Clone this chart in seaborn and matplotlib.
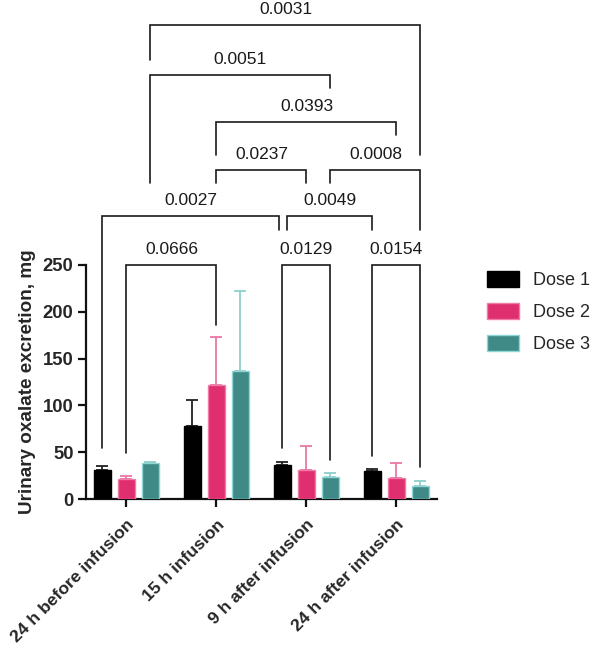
import matplotlib
matplotlib.use("Agg")
import matplotlib.pyplot as plt
import seaborn as sns
import pandas as pd
from matplotlib.patches import Patch

# ---------------- data ----------------
categories = ["24 h before infusion", "15 h infusion", "9 h after infusion", "24 h after infusion"]
doses = ["Dose 1", "Dose 2", "Dose 3"]
dose1_mean = [31, 78, 36.5, 30]
dose1_upper = [35, 106, 40, 32]
dose2_mean = [21, 122, 31, 22.5]
dose2_upper = [24.5, 173, 57, 38]
dose3_mean = [38.5, 137, 23.5, 14]
dose3_upper = [39.5, 222, 28, 19]
y_ticks = [0, 50, 100, 150, 200, 250]

# bracket annotations: label, (category, dose) left, (category, dose) right
p_labels = ["0.0666", "0.0129", "0.0154", "0.0027", "0.0049",
            "0.0237", "0.0008", "0.0393", "0.0051", "0.0031"]
p_left = [(0, 1), (2, 0), (3, 0), (0, 0), (2, 0), (1, 1), (2, 2), (1, 1), (0, 2), (0, 2)]
p_right = [(1, 1), (2, 2), (3, 2), (2, 0), (3, 0), (2, 1), (3, 2), (3, 1), (2, 2), (3, 2)]

# styling for brackets (top y, left-leg bottom, right-leg bottom, x nudges)
br_top = [250, 250, 250, 302, 302, 351, 351, 403, 453, 506]
br_lb = [49, 54.5, 46, 54.5, 287, 338, 338, 367, 338, 469]
br_rb = [186, 42, 34, 287, 287, 338, 287, 389, 439, 367]
br_dl = [0, 0, 0, 0, 0.05, 0, 0, 0, 0, 0]
br_dr = [0, 0, 0, -0.04, 0, 0, 0, 0, 0, 0]

fill_colors = ["#000000", "#e02f6e", "#3f8a86"]
edge_colors = ["#000000", "#f07aa8", "#90d6d6"]
err_colors = ["#222222", "#ea78a6", "#8fcfcc"]

means = [dose1_mean, dose2_mean, dose3_mean]
uppers = [dose1_upper, dose2_upper, dose3_upper]

rows = []
for d, m in zip(doses, means):
    for c, v in zip(categories, m):
        rows.append({"time": c, "dose": d, "value": v})
df = pd.DataFrame(rows)

# ---------------- plot ----------------
sns.set_style("ticks")
plt.rcParams["font.family"] = ["Liberation Sans", "DejaVu Sans"]

fig = plt.figure(figsize=(5.92, 6.48), dpi=100)
ax = fig.add_axes([86 / 592, 1 - 499 / 648, (437 - 86) / 592, 234 / 648])

sns.barplot(data=df, x="time", y="value", hue="dose", order=categories,
            hue_order=doses, palette=fill_colors, saturation=1, width=0.8,
            gap=0.33, errorbar=None, ax=ax, zorder=3)
if ax.get_legend() is not None:
    ax.get_legend().remove()

bar_conts = list(ax.containers)

for h, cont in enumerate(bar_conts):
    for c, bar in enumerate(cont):
        bar.set_edgecolor(edge_colors[h])
        bar.set_linewidth(1.0)
        x = bar.get_x() + bar.get_width() / 2
        top = bar.get_height()
        ax.errorbar([x], [top], yerr=[[0], [uppers[h][c] - top]], fmt="none",
                    ecolor=err_colors[h], elinewidth=1.3, capsize=4,
                    capthick=1.3, zorder=2)


def bar_x(cat, hue):
    b = bar_conts[hue][cat]
    return b.get_x() + b.get_width() / 2


for i, lab in enumerate(p_labels):
    x1 = bar_x(*p_left[i]) + br_dl[i]
    x2 = bar_x(*p_right[i]) + br_dr[i]
    t = br_top[i]
    ax.plot([x1, x1, x2, x2], [br_lb[i], t, t, br_rb[i]], color="#1a1a1a",
            lw=1.2, clip_on=False, solid_joinstyle="miter")
    ax.text((x1 + x2) / 2, t + 12, lab, ha="center", va="baseline",
            fontsize=12.5, color="#1a1a1a", clip_on=False)

ax.set_xlim(-0.45, 3.45)
ax.set_ylim(0, 250)
ax.set_yticks(y_ticks)
ax.set_yticklabels([str(v) for v in y_ticks], fontsize=13.3, fontweight="bold")
ax.set_xticks(range(len(categories)))
ax.set_xticklabels(categories, rotation=45, ha="right", rotation_mode="anchor",
                   fontsize=12.6, fontweight="bold")
ax.set_xlabel("")
ax.set_ylabel("Urinary oxalate excretion, mg", fontsize=13.6, fontweight="bold",
              labelpad=5)
sns.despine(ax=ax)
for s in ["left", "bottom"]:
    ax.spines[s].set_linewidth(1.6)
    ax.spines[s].set_color("#111111")
ax.tick_params(axis="both", width=1.6, length=6, color="#111111", pad=3)
ax.tick_params(axis="x", pad=7)

handles = [Patch(facecolor=fill_colors[i], edgecolor=edge_colors[i], label=doses[i])
           for i in range(3)]
fig.legend(handles=handles, loc="center left",
           bbox_to_anchor=(487 / 592, 1 - 312 / 648), frameon=False,
           fontsize=13, handlelength=1.75, handleheight=1.0,
           labelspacing=0.75, handletextpad=0.8, borderpad=0, borderaxespad=0)

fig.savefig("out.png", dpi=100)
